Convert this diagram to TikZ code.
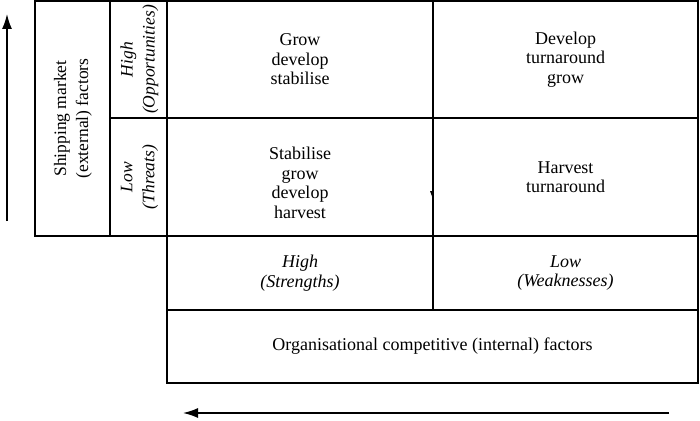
\documentclass[tikz,border=0pt]{standalone}
\usepackage{fontspec}
\setmainfont{Liberation Serif}
\usetikzlibrary{arrows.meta}
\begin{document}
\begin{tikzpicture}[x=1pt,y=-1pt,
  cell/.style={draw=black,line width=1.6pt,inner sep=0pt,outer sep=0pt,anchor=north west,align=center,font=\fontsize{18}{19.5}\selectfont},
  rtxt/.style={rotate=90,align=center,font=\fontsize{17.5}{22}\selectfont},
  axis/.style={line width=1.5pt,-{Latex[length=15pt,width=10pt]}}]
\useasboundingbox (0,0) rectangle (700,420);
% left label columns
\node[cell,minimum width=75pt,minimum height=235pt] (ship) at (35,1) {};
\node[rtxt] (shiptxt) at (73,118.5) {Shipping market\\(external) factors};
\node[cell,minimum width=57pt,minimum height=117pt] (opp) at (110,1) {};
\node[rtxt,font=\itshape\fontsize{17.5}{22}\selectfont] (opptxt) at (139.5,59.5) {High\\(Opportunities)};
\node[cell,minimum width=57pt,minimum height=118pt] (thr) at (110,118) {};
\node[rtxt,font=\itshape\fontsize{17.5}{22}\selectfont] (thrtxt) at (139.5,177) {Low\\(Threats)};
% main grid
\node[cell,minimum width=266pt,minimum height=117pt] (c11) at (167,1) {Grow\\develop\\stabilise};
\node[cell,minimum width=265pt,minimum height=117pt] (c12) at (433,1) {Develop\\turnaround\\grow};
\node[cell,minimum width=266pt,minimum height=118pt] (c21) at (167,118) {};
\node[align=center,font=\fontsize{18}{19.5}\selectfont] (c21txt) at (300,183) {Stabilise\\grow\\develop\\harvest};
\node[cell,minimum width=265pt,minimum height=118pt] (c22) at (433,118) {Harvest\\turnaround};
% bottom labels
\node[cell,minimum width=266pt,minimum height=74pt,font=\itshape\fontsize{18}{19.5}\selectfont] (str) at (167,236) {High\\(Strengths)};
\node[cell,minimum width=265pt,minimum height=74pt,font=\itshape\fontsize{18}{19.5}\selectfont] (weak) at (433,236) {Low\\(Weaknesses)};
\node[cell,minimum width=531pt,minimum height=73pt] (org) at (167,310) {Organisational competitive (internal) factors};
% small tick on middle line
\fill (430,191) -- (433,191) -- (433,199) -- cycle;
% axis arrows
\coordinate (vs) at (7,221);
\coordinate (ve) at (7,14);
\coordinate (hs) at (669,413);
\coordinate (he) at (183,413);
\draw[axis] (vs) -- (ve);
\draw[axis] (hs) -- (he);
\end{tikzpicture}
\end{document}
